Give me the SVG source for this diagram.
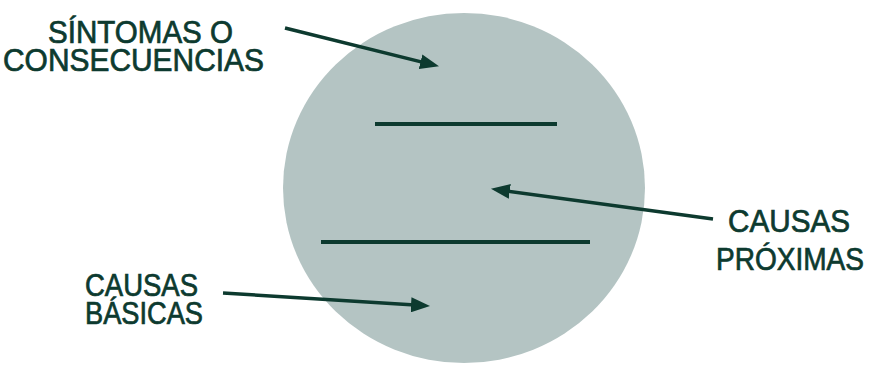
<svg xmlns="http://www.w3.org/2000/svg" width="874" height="367" viewBox="0 0 874 367">
  <style>
    .lbl { font-family: "Liberation Sans", Arial, sans-serif; font-size: 31px; fill: #0d3a2f; stroke: #0d3a2f; stroke-width: 0.7; text-anchor: middle; }
    .conn { stroke: #0d3a2f; stroke-width: 3.5; fill: none; marker-end: url(#ah); }
    .bar { stroke: #0d3a2f; stroke-width: 4; }
  </style>
  <defs>
    <marker id="ah" viewBox="0 0 19 15" markerWidth="19" markerHeight="15" markerUnits="userSpaceOnUse" refX="12" refY="7.5" orient="auto">
      <path d="M0,0 L19,7.5 L0,15 z" fill="#0d3a2f"/>
    </marker>
  </defs>
  <rect width="874" height="367" fill="#ffffff"/>
  <g id="circle">
    <ellipse cx="464" cy="188" rx="181" ry="175" fill="#b4c4c3"/>
    <line class="bar" x1="375" y1="124" x2="557" y2="124"/>
    <line class="bar" x1="321" y1="242" x2="590" y2="242"/>
  </g>
  <g id="sintomas">
    <text class="lbl" x="140.5" y="43" textLength="185" lengthAdjust="spacingAndGlyphs">SÍNTOMAS O</text>
    <text class="lbl" x="133.5" y="71" textLength="261" lengthAdjust="spacingAndGlyphs">CONSECUENCIAS</text>
  </g>
  <g id="proximas">
    <text class="lbl" x="789" y="232" textLength="122" lengthAdjust="spacingAndGlyphs">CAUSAS</text>
    <text class="lbl" x="790" y="270" textLength="148" lengthAdjust="spacingAndGlyphs">PRÓXIMAS</text>
  </g>
  <g id="basicas">
    <text class="lbl" x="141.5" y="296" textLength="113" lengthAdjust="spacingAndGlyphs">CAUSAS</text>
    <text class="lbl" x="144" y="324" textLength="118" lengthAdjust="spacingAndGlyphs">BÁSICAS</text>
  </g>
  <g id="connectors">
    <line class="conn" x1="285" y1="28" x2="432.2" y2="64.6"/>
    <line class="conn" x1="713" y1="219" x2="497.9" y2="189.8"/>
    <line class="conn" x1="223" y1="293" x2="423" y2="305.6"/>
  </g>
</svg>
